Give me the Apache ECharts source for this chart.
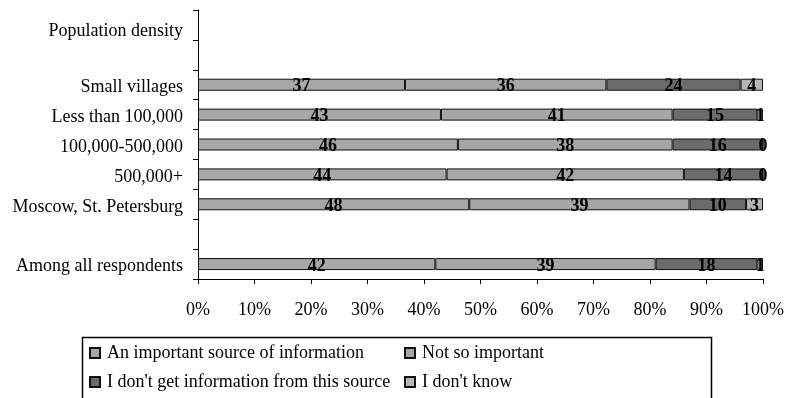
<!DOCTYPE html>
<html>
<head>
<meta charset="utf-8">
<script src="https://cdn.jsdelivr.net/npm/echarts@6/dist/echarts.min.js"></script>
<style>
  html, body { margin: 0; padding: 0; background: #fff; }
  #chart { width: 788px; height: 398px; }
</style>
</head>
<body>
<div id="chart"></div>
<script>
// Rows, top to bottom (blank rows are spacers on the axis)
const categories = [
  'Population density',
  '',
  'Small villages',
  'Less than 100,000',
  '100,000-500,000',
  '500,000+',
  'Moscow, St. Petersburg',
  ' ',
  'Among all respondents'
];

const seriesNames = [
  'An important source of information',
  'Not so important',
  "I don't get information from this source",
  "I don't know"
];

// Answer shares per row, in percent (null = no bar)
const important = [null, null, 37, 43, 46, 44, 48, null, 42];
const notSoImportant = [null, null, 36, 41, 38, 42, 39, null, 39];
const dontGetInfo = [null, null, 24, 15, 16, 14, 10, null, 18];
const dontKnow = [null, null, 4, 1, 0, 0, 3, null, 1];

const xTicks = [0, 10, 20, 30, 40, 50, 60, 70, 80, 90, 100];

const rawSeries = [important, notSoImportant, dontGetInfo, dontKnow];
const colors = ['#a8a8a8', '#a6a6a6', '#6b6b6b', '#b6b6b6'];
const FONT = '"Liberation Serif", "Times New Roman", serif';

// 100% stacked: each segment is its share of the row total
const rowTotals = categories.map((_, i) =>
  rawSeries.reduce((s, arr) => s + (arr[i] == null ? 0 : arr[i]), 0)
);

const series = rawSeries.map((arr, k) => ({
  name: seriesNames[k],
  type: 'bar',
  stack: 'total',
  barWidth: 12,
  itemStyle: { color: colors[k], borderColor: '#111', borderWidth: 1 },
  label: {
    show: true,
    position: 'inside',
    offset: [0, 2],
    fontFamily: FONT,
    fontSize: 18,
    fontWeight: 'bold',
    color: '#000',
    formatter: p => String(arr[p.dataIndex])
  },
  data: arr.map((v, i) => v == null ? null : v / rowTotals[i] * 100)
}));

const chart = echarts.init(document.getElementById('chart'), null, { renderer: 'canvas' });

const legendCommon = {
  orient: 'vertical',
  top: 344,
  padding: 0,
  itemWidth: 10,
  itemHeight: 10,
  itemGap: 11,
  icon: 'rect',
  textStyle: { fontFamily: FONT, fontSize: 18, color: '#000', lineHeight: 18, padding: [0, 0, 0, 2] }
};

const axisText = { fontFamily: FONT, fontSize: 18, color: '#000' };

chart.setOption({
  animation: false,
  backgroundColor: '#fff',
  textStyle: { fontFamily: FONT },
  grid: { left: 198, right: 25, top: 10, bottom: 119, containLabel: false },
  xAxis: {
    type: 'value',
    min: xTicks[0],
    max: xTicks[xTicks.length - 1],
    interval: 10,
    axisLine: { show: true, lineStyle: { color: '#000', width: 1 } },
    axisTick: { show: true, length: 5, lineStyle: { color: '#000' } },
    splitLine: { show: false },
    axisLabel: Object.assign({
      margin: 22,
      formatter: v => v + '%'
    }, axisText)
  },
  yAxis: {
    type: 'category',
    inverse: true,
    data: categories,
    axisLine: { show: true, lineStyle: { color: '#000', width: 1 } },
    axisTick: { show: true, length: 5, lineStyle: { color: '#000' } },
    axisLabel: Object.assign({
      margin: 15,
      // heading row sits lower in its band than the group rows
      formatter: (v, i) => v.trim() === '' ? '' : (i === 0 ? '{h|' + v + '}' : '{n|' + v + '}'),
      rich: {
        n: Object.assign({ padding: [5, 0, 0, 0] }, axisText),
        h: Object.assign({ padding: [13, 0, 0, 0] }, axisText)
      }
    }, axisText)
  },
  legend: [
    Object.assign({}, legendCommon, { left: 89, data: [seriesNames[0], seriesNames[2]] }),
    Object.assign({}, legendCommon, { left: 404, data: [seriesNames[1], seriesNames[3]] })
  ],
  graphic: [{
    type: 'rect',
    silent: true,
    shape: { x: 82.5, y: 337.5, width: 629, height: 80 },
    style: { fill: 'none', stroke: '#000', lineWidth: 1.5 }
  }],
  series: series
});
</script>
</body>
</html>
